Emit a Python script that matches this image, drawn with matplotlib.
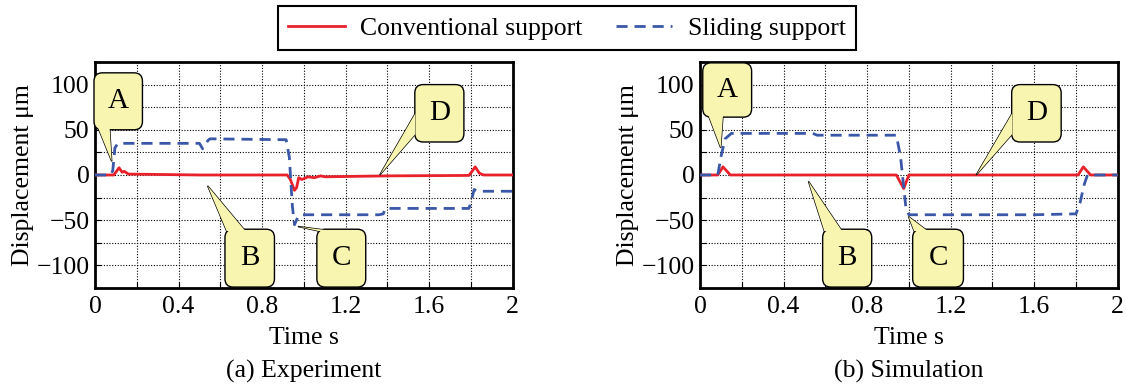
import numpy as np
import matplotlib.pyplot as plt
from matplotlib.patches import FancyBboxPatch, Polygon

plt.rcParams['font.family'] = ['Liberation Serif', 'DejaVu Serif']

# (a) experiment
exp_conv_t = [0, 0.09, 0.115, 0.13, 0.14, 0.16, 0.5, 0.92, 0.935, 0.955, 0.965, 0.975,
              0.99, 1.02, 1.05, 1.08, 1.1, 1.4, 1.79, 1.805, 1.82, 1.84, 1.86, 2.0]
exp_conv_v = [0, 0, 8, 3, 4, 1, 0, 0, -5, -17, -14, -3,
              -5, -2, -3, -1, -2, -1, -0.5, 4, 9, 2, 0, 0]
exp_slid_t = [0, 0.075, 0.085, 0.095, 0.11, 0.5, 0.515, 0.54, 0.55, 0.915, 0.93, 0.945,
              0.955, 0.97, 0.985, 1.36, 1.38, 1.39, 1.79, 1.80, 1.815, 1.83, 2.0]
exp_slid_v = [0, 0, 5, 30, 35, 35, 29, 38, 40, 39, 20, -35,
              -55, -47, -44, -44, -43, -37, -37, -30, -16, -18, -18]

# (b) simulation
sim_conv_t = [0, 0.085, 0.11, 0.145, 0.94, 0.975, 1.0, 1.81, 1.835, 1.87, 2.0]
sim_conv_v = [0, 0, 9, 0, 0, -15, 0, 0, 9, 0, 0]
sim_slid_t = [0, 0.085, 0.1, 0.12, 0.15, 0.54, 0.56, 0.94, 0.96, 0.985, 1.0, 1.6,
              1.8, 1.82, 1.84, 1.855, 2.0]
sim_slid_v = [0, 0, 20, 40, 46, 46, 44, 44, 20, -35, -44, -44,
              -43, -30, -10, 0, 0]

titles = ['(a) Experiment', '(b) Simulation']
labels = ['A', 'B', 'C', 'D']

# callouts: box x0, x1, y0, y1, pointer base points, pointer tip
callouts_a = [
    (-0.005, 0.227, 50, 113, [(0.015, 52), (0.07, 52)], (0.08, 15)),
    (0.622, 0.859, -124, -60, [(0.63, -62), (0.72, -62)], (0.539, -12)),
    (1.062, 1.296, -124, -60, [(1.07, -62), (1.14, -62)], (0.971, -57)),
    (1.531, 1.766, 36.5, 100, [(1.533, 68), (1.533, 45)], (1.363, 0)),
]
callouts_b = [
    (0.013, 0.247, 64, 124, [(0.04, 66), (0.11, 66)], (0.099, 30)),
    (0.587, 0.822, -124, -60, [(0.595, -62), (0.68, -62)], (0.519, -7)),
    (1.018, 1.261, -124, -60, [(1.025, -62), (1.09, -62)], (0.998, -46)),
    (1.492, 1.729, 36.5, 100, [(1.494, 68), (1.494, 45)], (1.322, 0)),
]

red = '#e8212b'
blue = '#3b58a8'
yellow = '#f8f5b0'
fs = 18.5

fig = plt.figure(figsize=(11.26, 3.85), dpi=100)
ax1 = fig.add_axes([0.0844, 0.252, 0.371, 0.587])
ax2 = fig.add_axes([0.6217, 0.252, 0.371, 0.587])

# pixel aspect: y units per x unit for equal screen length
asp = (2 / (0.371 * 1126)) ** -1 / (250 / (0.587 * 385)) ** -1

data = [(exp_conv_t, exp_conv_v, exp_slid_t, exp_slid_v, callouts_a),
        (sim_conv_t, sim_conv_v, sim_slid_t, sim_slid_v, callouts_b)]

for ax, (ct, cv, st, sv, calls), title in zip([ax1, ax2], data, titles):
    l1, = ax.plot(ct, cv, color=red, lw=2, label='Conventional support', zorder=3)
    l2, = ax.plot(st, sv, color=blue, lw=2, ls=(0, (4, 2.5)), label='Sliding support', zorder=3)
    ax.set_xlim(0, 2)
    ax.set_ylim(-125, 125)
    ax.set_xticks(np.arange(0, 2.01, 0.4))
    ax.set_xticklabels(['0', '0.4', '0.8', '1.2', '1.6', '2'])
    ax.set_xticks(np.arange(0, 2.01, 0.2), minor=True)
    ax.set_yticks([-100, -50, 0, 50, 100])
    ax.set_yticks(np.arange(-125, 126, 25), minor=True)
    ax.grid(True, which='both', color='k', ls=(0, (1, 1.5)), lw=0.8)
    ax.tick_params(which='both', direction='in', labelsize=fs, length=4, width=0.8)
    ax.tick_params(axis='x', pad=6)
    ax.tick_params(axis='y', pad=4)
    for s in ax.spines.values():
        s.set_linewidth(2)
    ax.set_xlabel('Time s', fontsize=fs, labelpad=6)
    ax.set_ylabel('Displacement μm', fontsize=fs, labelpad=2)
    ax.text(0.5, -0.37, title, transform=ax.transAxes, ha='center', va='center', fontsize=fs)

    for lab, (x0, x1, y0, y1, base, tip) in zip(labels, calls):
        w = Polygon([base[0], tip, base[1]], closed=True, fc=yellow, ec='k', lw=1, zorder=5,
                    clip_on=False)
        ax.add_patch(w)
        b = FancyBboxPatch((x0, y0), x1 - x0, y1 - y0,
                           boxstyle='round,pad=0,rounding_size=0.04',
                           mutation_aspect=asp,
                           fc=yellow, ec='k', lw=1, zorder=6, clip_on=False)
        ax.add_patch(b)
        w2 = Polygon([base[0], tip, base[1]], closed=True, fc=yellow, ec='none', zorder=7,
                     clip_on=False)
        ax.add_patch(w2)
        ax.text((x0 + x1) / 2, (y0 + y1) / 2, lab, ha='center', va='center', fontsize=21,
                zorder=8)

leg = fig.legend(handles=[l1, l2], loc='center', bbox_to_anchor=(0.5035, 0.927), ncol=2,
                 fontsize=fs, frameon=True, fancybox=False, edgecolor='k', framealpha=1,
                 handlelength=2.2, borderpad=0.4, columnspacing=1.3, handletextpad=0.6)
leg.get_frame().set_linewidth(1.5)

fig.savefig('out.png', dpi=100)
